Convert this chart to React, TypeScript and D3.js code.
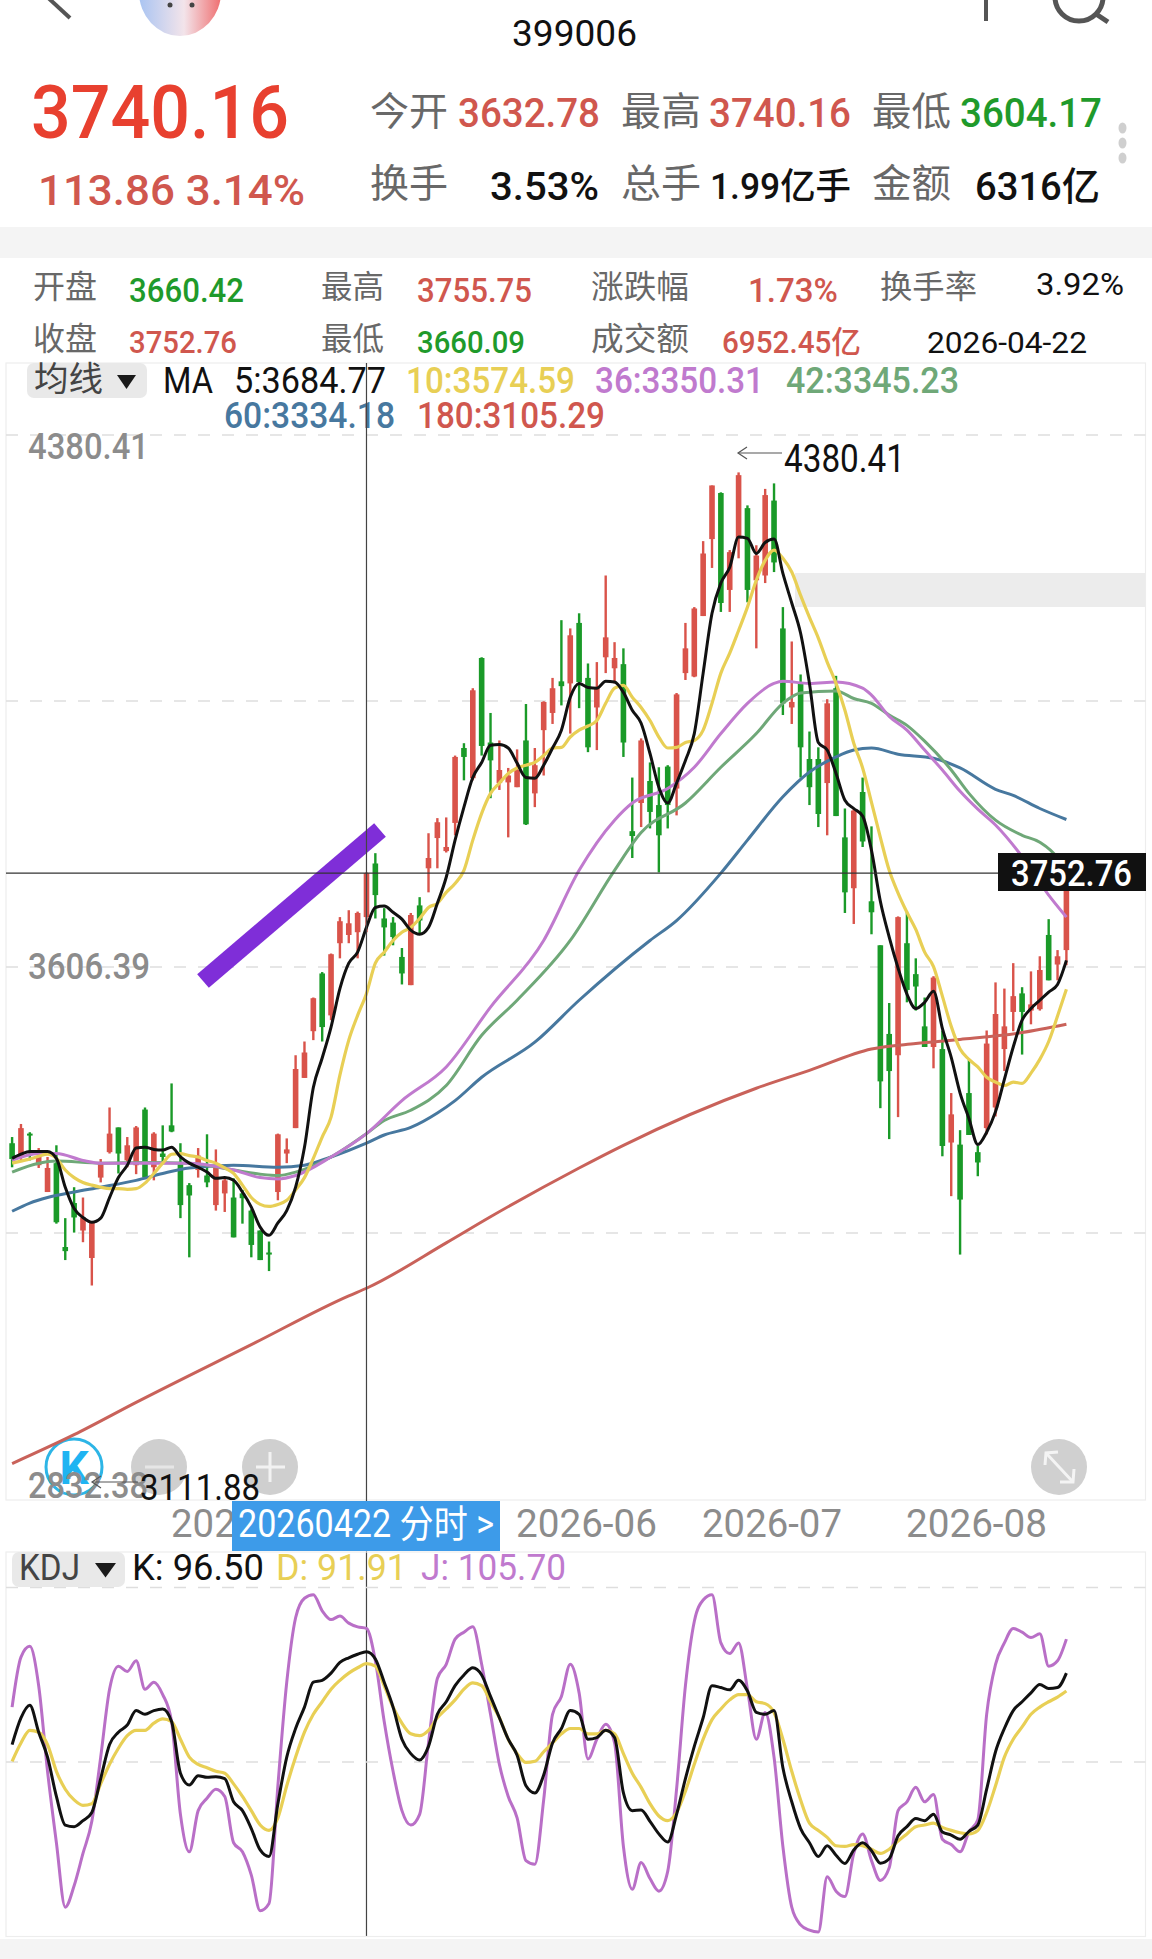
import React from "react";
import * as d3 from "d3";

const opens = [3350,3330,3364,3318,3279,3321,3199,3263,3223,3183,3300,3337,3373,3325,3318,3399,3315,3335,3376,3321,3289,3311,3303,3260,3277,3271,3277,3252,3223,3191,3279,3335,3372,3445,3513,3597,3536,3641,3653,3657,3679,3757,3677,3671,3621,3580,3696,3750,3794,3775,3816,3925,3881,4056,3933,3874,3875,3868,3936,3859,3951,3976,4022,4019,4107,4027,3984,4057,4041,4047,3804,3845,3877,3842,3898,3866,4034,4029,4117,4229,4296,4155,4230,4274,4169,4176,4285,4099,3984,4019,3909,3909,3874,4012,3795,3721,3861,3702,3638,3509,3478,3641,3596,3520,3490,3487,3351,3348,3423,3337,3372,3402,3487,3541,3568,3543,3545,3653,3610,3631];
const highs = [3359,3378,3366,3343,3330,3347,3241,3286,3271,3235,3327,3402,3373,3359,3375,3402,3366,3376,3437,3350,3292,3343,3363,3341,3300,3299,3282,3254,3223,3207,3364,3357,3478,3498,3562,3599,3626,3679,3689,3687,3744,3772,3692,3679,3634,3685,3708,3801,3823,3824,3914,3932,4012,4057,3976,3936,3896,3923,3989,3925,3993,4027,4111,4099,4121,4048,4050,4176,4079,4070,3882,3939,3904,3897,3900,4005,4107,4130,4226,4307,4297,4213,4326,4278,4220,4302,4310,4130,4080,4032,3949,3926,3996,4030,3837,3837,3882,3811,3638,3554,3680,3687,3619,3562,3593,3514,3423,3369,3471,3346,3514,3584,3575,3612,3577,3600,3622,3676,3631,3743];
const lows = [3315,3325,3325,3314,3279,3233,3180,3220,3206,3143,3293,3335,3306,3315,3305,3299,3296,3321,3366,3241,3184,3300,3286,3252,3250,3213,3233,3184,3180,3164,3267,3321,3372,3445,3500,3498,3529,3619,3641,3619,3657,3677,3623,3638,3581,3580,3655,3715,3750,3773,3798,3878,3878,3914,3852,3864,3795,3868,3813,3839,3885,3960,3987,3946,3983,3919,3922,4034,4019,3912,3765,3810,3808,3744,3808,3827,4024,4028,4117,4187,4123,4123,4201,4137,4070,4165,4181,3973,3960,3882,3842,3810,3798,3826,3685,3669,3781,3654,3401,3356,3388,3555,3543,3490,3459,3331,3273,3188,3362,3302,3363,3389,3455,3513,3479,3523,3543,3587,3587,3609];
const closes = [3327,3372,3362,3330,3314,3235,3193,3242,3242,3235,3321,3364,3335,3347,3373,3300,3364,3330,3367,3260,3274,3332,3293,3315,3296,3213,3270,3202,3180,3188,3363,3341,3458,3482,3561,3519,3625,3673,3670,3685,3743,3711,3664,3650,3597,3682,3674,3765,3817,3781,3912,3912,4009,3928,3907,3893,3885,3893,3814,3900,3992,4012,4015,4089,4021,3926,4012,4086,4056,3933,3797,3936,3832,3798,3842,4003,4070,4128,4208,4307,4136,4210,4322,4155,4205,4293,4195,3990,3992,3926,3868,3829,3990,3826,3715,3834,3789,3686,3440,3455,3679,3573,3578,3490,3591,3346,3392,3268,3362,3322,3495,3538,3520,3564,3541,3552,3602,3587,3622,3743];

const ma5 = [3328,3334,3338,3338,3338,3328,3286,3255,3242,3235,3241,3271,3300,3318,3343,3344,3341,3340,3344,3330,3321,3315,3308,3299,3300,3296,3279,3257,3228,3216,3234,3252,3286,3344,3431,3474,3519,3575,3612,3628,3664,3693,3695,3686,3676,3660,3654,3664,3699,3737,3791,3839,3882,3904,3929,3930,3925,3903,3882,3881,3900,3925,3951,3999,4019,4013,4012,4022,4021,4006,3980,3961,3917,3868,3845,3874,3907,3946,4034,4121,4165,4188,4232,4230,4208,4224,4229,4179,4136,4092,4019,3933,3922,3888,3849,3837,3826,3776,3702,3650,3605,3567,3546,3555,3571,3517,3475,3423,3386,3348,3366,3396,3443,3490,3529,3546,3558,3570,3581,3616];
const ma10 = [3321,3324,3327,3331,3334,3328,3311,3300,3293,3289,3286,3284,3284,3283,3284,3292,3306,3321,3334,3335,3332,3330,3325,3321,3314,3306,3289,3271,3261,3258,3261,3267,3282,3300,3328,3359,3388,3449,3500,3536,3568,3612,3628,3645,3657,3664,3677,3693,3699,3715,3728,3747,3791,3830,3859,3874,3888,3896,3900,3904,3914,3925,3926,3941,3951,3957,3965,3990,4012,4016,3999,3984,3965,3941,3925,3926,3933,3936,3951,3990,4034,4063,4096,4130,4169,4198,4213,4201,4181,4147,4115,4085,4050,4019,3980,3932,3896,3846,3795,3747,3714,3686,3661,3628,3607,3564,3520,3487,3472,3461,3446,3439,3434,3439,3437,3452,3472,3498,3535,3574];

const ma36Index = [0,3,5,8,10,15,20,25,28,30,32,36,40,44,49,54,60,64,68,70,74,77,80,83,86,87,90,93,96,97,99,101,103,105,107,109,111,114,117,119];
const ma36 = [3325,3335,3335,3325,3321,3321,3321,3311,3300,3298,3303,3330,3364,3412,3461,3548,3645,3747,3820,3845,3866,3897,3946,3990,4019,4022,4019,4021,4012,4002,3971,3951,3922,3893,3862,3836,3813,3767,3711,3679];
const ma42Index = [0,3,5,10,15,20,25,28,30,32,36,40,42,45,49,53,57,63,68,71,76,80,84,87,89,93,95,97,99,101,103,106,108,111,114,116,118,119];
const ma42 = [3308,3321,3324,3321,3322,3321,3311,3305,3303,3308,3330,3364,3383,3398,3434,3507,3558,3645,3747,3802,3845,3897,3946,3990,4005,4008,3997,3990,3973,3958,3935,3893,3859,3820,3798,3788,3765,3743];
const ma60Index = [0,2,4,7,10,14,17,20,25,30,33,36,40,42,45,48,50,53,59,64,72,75,80,83,87,90,93,95,97,100,104,107,111,113,116,119];
const ma60 = [3251,3263,3271,3279,3286,3296,3306,3314,3318,3315,3318,3330,3350,3362,3373,3394,3412,3446,3497,3558,3645,3674,3743,3791,3854,3890,3912,3922,3925,3916,3910,3896,3865,3856,3837,3821];
const ma180Index = [0,7,14,27,38,40,49,54,64,69,84,90,97,102,107,114,119];
const ma180 = [2884,2926,2973,3057,3128,3139,3205,3243,3314,3347,3430,3456,3487,3495,3501,3511,3523];

const kdjK = [57.5,69.0,74.4,62.8,52.1,35.2,22.9,22.2,24.8,28.3,42.9,57.5,62.8,65.9,72.1,70.5,72.1,72.8,67.4,45.2,40.1,44.1,43.4,43.7,42.9,32.9,29.1,21.4,12.2,9.4,32.1,52.1,64.4,73.6,84.3,85.1,88.2,92.8,94.8,96.3,97.4,94.3,84.3,73.6,59.8,53.6,50.9,56.7,70.5,75.9,82.8,87.4,90.5,87.4,78.2,69.0,59.8,52.9,39.8,36.7,44.4,58.2,64.4,72.1,70.5,59.8,60.5,63.6,60.5,36.7,29.1,29.4,24.5,19.1,15.6,27.5,42.9,56.7,69.0,82.8,82.0,81.0,85.1,80.5,71.3,70.5,72.1,47.5,32.9,21.4,15.3,9.4,14.0,9.9,6.4,12.2,15.3,11.9,6.5,8.4,18.3,22.2,25.7,24.8,27.5,19.9,18.6,16.8,20.2,22.9,38.3,54.4,64.4,72.1,75.9,79.7,83.3,81.6,82.0,88.2];
const kdjD = [50.3,58.2,63.6,62.8,57.5,46.0,38.3,33.7,31.4,32.1,40.6,49.0,55.9,61.3,63.6,63.6,66.7,68.5,67.4,59.8,52.1,49.0,47.5,46.0,45.2,40.6,35.2,29.1,22.9,20.6,26.0,39.8,52.1,62.8,70.5,75.9,81.3,85.1,88.2,90.5,92.3,91.2,82.8,73.6,66.7,62.1,61.3,63.6,69.0,72.8,76.7,81.3,84.0,82.8,75.9,69.0,59.8,53.6,49.8,50.3,54.4,58.2,62.1,64.4,64.4,62.1,62.1,63.6,62.1,53.6,45.2,39.1,32.1,26.8,24.8,28.3,37.5,49.0,59.8,68.2,72.8,76.7,79.0,79.0,75.9,75.1,71.3,59.8,46.0,33.7,23.7,20.6,17.6,14.0,13.7,14.5,14.0,12.5,10.7,12.5,16.0,19.1,22.2,22.9,23.7,21.9,20.6,19.6,19.1,20.6,28.3,39.8,52.1,59.8,65.1,70.5,73.6,75.9,77.9,80.5];
const kdjJ = [73.6,95.1,99.7,82.8,46.0,15.3,-12.4,-3.2,10.7,24.5,52.1,81.3,91.2,88.9,93.5,81.3,84.3,79.0,67.4,27.5,11.4,29.1,34.4,38.3,35.2,15.3,11.4,1.4,-13.9,-10.8,39.8,84.3,112.0,120.4,121.9,115.0,111.2,112.7,109.7,108.1,107.4,93.5,67.4,46.0,29.1,22.9,27.5,58.2,85.9,92.0,102.8,105.8,108.1,92.0,70.5,49.0,35.2,26.0,7.6,6.0,33.7,70.5,78.2,92.0,79.7,51.3,59.8,66.2,58.2,13.7,-4.7,6.8,-0.1,-5.5,3.0,38.3,82.8,110.4,119.6,121.9,101.2,96.6,101.2,81.3,59.8,71.3,52.1,13.7,-12.4,-20.0,-22.3,-23.1,0.7,-5.5,-7.8,10.7,19.1,7.6,-0.9,4.5,29.1,32.9,39.1,32.9,36.0,16.8,14.5,11.4,19.9,25.2,70.5,92.0,101.2,107.4,105.8,103.5,105.1,91.2,93.5,102.8];

const monthLabels = ["2026-05", "2026-06", "2026-07", "2026-08"];
const axisPrices = ["4380.41", "3606.39", "2832.38"];
const crossIndex = 40;
const crossPrice = closes[crossIndex];

const W = 1152;
const H = 1959;
const LEFT = 6;
const RIGHT = 1145.5;

const x = d3.scaleLinear().domain([0, 119]).range([12.1, 1066.4]);
const yP = d3.scaleLinear().domain([2832.38, 4380.41]).range([1499, 435]);
const yK = d3.scaleLinear().domain([-25, 125]).range([1936.5, 1587.5]);

const RED = "#d9534a";
const GREEN = "#1a9a28";
const TXT_RED = "#d0574e";
const TXT_GREEN = "#1f9a2b";
const GREY = "#686868";
const AXIS = "#8c8c8c";
const YEL = "#e8cf55";
const PINK = "#c07ace";
const MA42C = "#6fa878";
const BLUE = "#47789f";
const MA180C = "#c9625a";

const FONT = "Roboto, 'Noto Sans CJK SC', sans-serif";

const lineP = d3.line<[number, number]>().x((d) => x(d[0])).y((d) => yP(d[1])).curve(d3.curveMonotoneX);
const lineK = d3.line<[number, number]>().x((d) => x(d[0])).y((d) => yK(d[1])).curve(d3.curveMonotoneX);
const full = (vals: number[]) => vals.map((v, i) => [i, v] as [number, number]);
const sparse = (idx: number[], vals: number[]) => idx.map((k, i) => [k, vals[i]] as [number, number]);

function T(p: { x: number; y: number; s: number; c: string; len?: number; weight?: number; children: string }) {
  const hasCjkOnly = /^[\u4e00-\u9fff]+$/.test(p.children);
  return (
    <text
      x={p.x}
      y={p.y}
      fontSize={p.s}
      fill={p.c}
      fontFamily={FONT}
      fontWeight={p.weight ?? (hasCjkOnly ? 400 : 500)}
      textLength={p.len}
      lengthAdjust={p.len ? "spacingAndGlyphs" : undefined}
    >
      {p.children}
    </text>
  );
}

function Dashes({ y }: { y: number }) {
  return <line x1={LEFT} x2={RIGHT} y1={y} y2={y} stroke="#dedede" strokeWidth={1.6} strokeDasharray="12 12" />;
}

function Arrow({ x1, x2, y }: { x1: number; x2: number; y: number }) {
  return (
    <g stroke="#555" strokeWidth={1.2} fill="none">
      <line x1={x1} x2={x2} y1={y} y2={y} />
      <polyline points={`${x1 + 9},${y - 6} ${x1},${y} ${x1 + 9},${y + 6}`} />
    </g>
  );
}

export default function App() {
  return (
    <svg width={W} height={H} viewBox={`0 0 ${W} ${H}`} style={{ position: "absolute", left: 0, top: 0, background: "#fff", display: "block" }}>
      <defs>
        <linearGradient id="mascot" x1="0" x2="1" y1="0" y2="0">
          <stop offset="0" stopColor="#a9c4f2" />
          <stop offset="0.55" stopColor="#f3e4ea" />
          <stop offset="1" stopColor="#ef6f70" />
        </linearGradient>
      </defs>

      {/* top bar */}
      <polyline points="44,-6 70,18" stroke="#555" strokeWidth={4} fill="none" />
      <ellipse cx={180} cy={-8} rx={41} ry={44} fill="url(#mascot)" />
      <circle cx={170} cy={5} r={2.5} fill="#444" />
      <circle cx={192} cy={5} r={2.5} fill="#444" />
      <line x1={986} x2={986} y1={0} y2={21} stroke="#555" strokeWidth={4} />
      <circle cx={1079} cy={-3} r={24} stroke="#555" strokeWidth={5} fill="none" />
      <line x1={1096} x2={1108} y1={14} y2={22} stroke="#555" strokeWidth={5} />
      <T x={512} y={46} s={36} c="#111" len={125} weight={400}>399006</T>

      {/* quote */}
      <T x={31} y={138} s={74} c="#e8402f" len={258}>3740.16</T>
      <T x={38} y={205} s={43} c={TXT_RED} len={267}>113.86 3.14%</T>
      <T x={370} y={125} s={39} c={GREY} len={78}>今开</T>
      <T x={458} y={127} s={41} c={TXT_RED} len={142}>3632.78</T>
      <T x={621} y={125} s={39} c={GREY} len={80}>最高</T>
      <T x={709} y={127} s={41} c={TXT_RED} len={142}>3740.16</T>
      <T x={872} y={125} s={39} c={GREY} len={79}>最低</T>
      <T x={960} y={127} s={41} c={TXT_GREEN} len={142}>3604.17</T>
      <T x={370} y={197} s={39} c={GREY} len={78}>换手</T>
      <T x={490} y={200} s={39} c="#111" len={109}>3.53%</T>
      <T x={621} y={197} s={39} c={GREY} len={80}>总手</T>
      <T x={710} y={199} s={36} c="#111" len={141}>1.99亿手</T>
      <T x={872} y={197} s={39} c={GREY} len={79}>金额</T>
      <T x={975} y={200} s={39} c="#111" len={125}>6316亿</T>
      {[128, 143, 158].map((cy) => (
        <ellipse key={cy} cx={1122.5} cy={cy} rx={4} ry={5.5} fill="#cfcfcf" />
      ))}
      <rect x={0} y={227} width={W} height={31} fill="#f4f4f4" />

      {/* candle detail */}
      <T x={33} y={298} s={32} c={GREY} len={64}>开盘</T>
      <T x={129} y={302} s={33} c={TXT_GREEN} len={115}>3660.42</T>
      <T x={321} y={298} s={32} c={GREY} len={63}>最高</T>
      <T x={417} y={302} s={33} c={TXT_RED} len={115}>3755.75</T>
      <T x={591} y={298} s={32} c={GREY} len={98}>涨跌幅</T>
      <T x={748} y={302} s={33} c={TXT_RED} len={90}>1.73%</T>
      <T x={880} y={298} s={32} c={GREY} len={97}>换手率</T>
      <T x={1036} y={295} s={31} c="#111" len={88} weight={400}>3.92%</T>
      <T x={33} y={350} s={32} c={GREY} len={64}>收盘</T>
      <T x={129} y={353} s={31} c={TXT_RED} len={108}>3752.76</T>
      <T x={321} y={350} s={32} c={GREY} len={63}>最低</T>
      <T x={417} y={353} s={31} c={TXT_GREEN} len={108}>3660.09</T>
      <T x={591} y={350} s={32} c={GREY} len={98}>成交额</T>
      <T x={722} y={353} s={31} c={TXT_RED} len={139}>6952.45亿</T>
      <T x={927} y={353} s={29} c="#111" len={160} weight={400}>2026-04-22</T>

      {/* main panel */}
      <rect x={LEFT} y={363} width={RIGHT - LEFT} height={1137} fill="none" stroke="#ededed" strokeWidth={1.2} />
      <rect x={795} y={573} width={350} height={34} fill="#ececec" />
      {[435, 701, 967, 1233].map((y) => <Dashes key={y} y={y} />)}

      <rect x={27} y={363} width={120} height={35} rx={7} fill="#e9e9e9" />
      <T x={34} y={391} s={34} c="#444" len={69}>均线</T>
      <polygon points="117,375 136,375 126.5,389" fill="#1a1a1a" />
      <T x={163} y={393} s={36} c="#111" len={50} weight={400}>MA</T>
      <T x={234} y={393} s={36} c="#111" len={152} weight={400}>5:3684.77</T>
      <T x={406} y={393} s={36} c={YEL} len={169}>10:3574.59</T>
      <T x={595} y={393} s={36} c={PINK} len={169}>36:3350.31</T>
      <T x={786} y={393} s={36} c={MA42C} len={173}>42:3345.23</T>
      <T x={224} y={428} s={36} c={BLUE} len={171}>60:3334.18</T>
      <T x={417} y={428} s={36} c={TXT_RED} len={188}>180:3105.29</T>

      <T x={28} y={459} s={36} c={AXIS} len={121}>{axisPrices[0]}</T>
      <T x={28} y={979} s={36} c={AXIS} len={122}>{axisPrices[1]}</T>

      {/* buttons */}
      <circle cx={74} cy={1467} r={28} fill="#fff" stroke="#2db5e6" strokeWidth={3} />
      <text x={74} y={1484} fontSize={46} fontWeight={700} fill="#1fb4f2" textAnchor="middle" fontFamily={FONT}>K</text>
      <circle cx={159} cy={1467} r={28} fill="#cfcfcf" />
      <line x1={145} x2={174} y1={1467} y2={1467} stroke="#e6e6e6" strokeWidth={3} />
      <circle cx={270} cy={1467} r={28} fill="#cfcfcf" />
      <line x1={256} x2={285} y1={1467} y2={1467} stroke="#f2f2f2" strokeWidth={3} />
      <line x1={270} x2={270} y1={1452} y2={1482} stroke="#f2f2f2" strokeWidth={3} />
      <circle cx={1059} cy={1467} r={28} fill="#d0d0d0" />
      <g stroke="#f4f4f4" strokeWidth={3} fill="none">
        <line x1={1046} x2={1073} y1={1453} y2={1482} />
        <polyline points="1045,1465 1046,1453 1058,1452" />
        <polyline points="1060,1482 1073,1482 1074,1469" />
      </g>

      {/* candles */}
      {opens.map((o, i) => {
        const c = closes[i];
        const col = c >= o ? RED : GREEN;
        const top = yP(Math.max(o, c));
        const bot = yP(Math.min(o, c));
        return (
          <g key={i} fill={col}>
            <rect x={x(i) - 1.2} y={yP(highs[i])} width={2.4} height={yP(lows[i]) - yP(highs[i])} />
            <rect x={x(i) - 2.8} y={top} width={5.6} height={Math.max(2, bot - top)} />
          </g>
        );
      })}

      {/* moving averages */}
      <g fill="none" strokeLinejoin="round">
        <path d={lineP(sparse(ma180Index, ma180)) ?? ""} stroke={MA180C} strokeWidth={3} />
        <path d={lineP(sparse(ma60Index, ma60)) ?? ""} stroke={BLUE} strokeWidth={3} />
        <path d={lineP(sparse(ma42Index, ma42)) ?? ""} stroke={MA42C} strokeWidth={3} />
        <path d={lineP(sparse(ma36Index, ma36)) ?? ""} stroke={PINK} strokeWidth={3} />
        <path d={lineP(full(ma10)) ?? ""} stroke={YEL} strokeWidth={3.2} />
        <path d={lineP(full(ma5)) ?? ""} stroke="#111" strokeWidth={3} />
      </g>

      {/* annotation stroke */}
      <line x1={203} y1={981} x2={380} y2={830} stroke="#7f2ed8" strokeWidth={18} />

      {/* crosshair */}
      <line x1={x(crossIndex)} x2={x(crossIndex)} y1={363} y2={1936} stroke="#444" strokeWidth={1.2} />
      <line x1={LEFT} x2={998} y1={yP(crossPrice)} y2={yP(crossPrice)} stroke="#333" strokeWidth={1.2} />
      <rect x={998} y={853} width={148} height={38} fill="#111" />
      <T x={1011} y={886} s={36} c="#fff" len={121}>3752.76</T>

      {/* extreme labels */}
      <Arrow x1={738} x2={782} y={453} />
      <T x={784} y={472} s={38} c="#111" len={121} weight={400}>4380.41</T>
      <T x={28} y={1498} s={36} c={AXIS} len={120}>{axisPrices[2]}</T>
      <Arrow x1={92} x2={138} y={1482} />
      <T x={140} y={1500} s={37} c="#111" len={120} weight={400}>3111.88</T>

      {/* x axis */}
      <T x={171} y={1537} s={39} c={AXIS} len={140} weight={400}>{monthLabels[0]}</T>
      <T x={516} y={1537} s={39} c={AXIS} len={141} weight={400}>{monthLabels[1]}</T>
      <T x={702} y={1537} s={39} c={AXIS} len={140} weight={400}>{monthLabels[2]}</T>
      <T x={906} y={1537} s={39} c={AXIS} len={141} weight={400}>{monthLabels[3]}</T>
      <rect x={232} y={1501} width={268} height={50} fill="#3d9be9" />
      <T x={238} y={1537} s={38} c="#fff" len={256} weight={400}>20260422 分时 &gt;</T>

      {/* KDJ panel */}
      <rect x={LEFT} y={1552} width={RIGHT - LEFT} height={384.5} fill="none" stroke="#ededed" strokeWidth={1.2} />
      <Dashes y={1587.5} />
      <Dashes y={1762} />
      <rect x={12} y={1552} width={113} height={35} rx={7} fill="#e9e9e9" />
      <T x={19} y={1580} s={36} c="#444" len={61} weight={400}>KDJ</T>
      <polygon points="95,1563 116,1563 105.5,1577.5" fill="#1a1a1a" />
      <T x={132} y={1580} s={36} c="#111" len={132} weight={400}>K: 96.50</T>
      <T x={276} y={1580} s={36} c={YEL} len={131} weight={400}>D: 91.91</T>
      <T x={421} y={1580} s={36} c={PINK} len={145} weight={400}>J: 105.70</T>
      <g fill="none" strokeLinejoin="round">
        <path d={lineK(full(kdjJ)) ?? ""} stroke="#b96fc7" strokeWidth={3} />
        <path d={lineK(full(kdjD)) ?? ""} stroke={YEL} strokeWidth={3.2} />
        <path d={lineK(full(kdjK)) ?? ""} stroke="#111" strokeWidth={3} />
      </g>
      <rect x={0} y={1939} width={W} height={20} fill="#f4f4f4" />
    </svg>
  );
}
